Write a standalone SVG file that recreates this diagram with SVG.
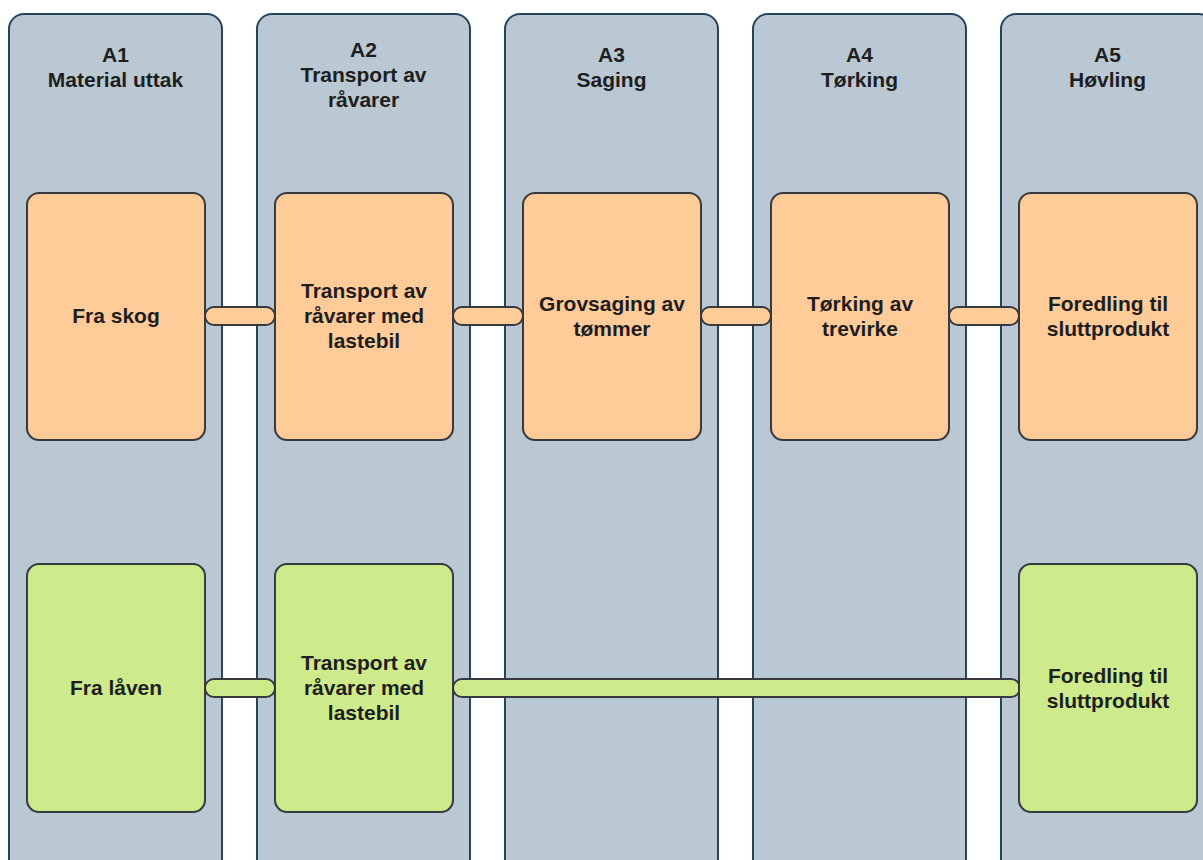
<svg xmlns="http://www.w3.org/2000/svg" width="1203" height="860" viewBox="0 0 1203 860">
<style>
.lane{fill:#bac8d3;stroke:#23445d;stroke-width:2}
.or{fill:#ffcc99;stroke:#36393d;stroke-width:2}
.gr{fill:#cdeb8b;stroke:#36393d;stroke-width:2}
.t{font-family:"Liberation Sans",Arial,sans-serif;font-size:21px;font-weight:bold;fill:#1e1e1e;text-anchor:middle}
</style>
<rect width="1203" height="860" fill="#ffffff"/>
<g id="lane-a1"><rect class="lane" x="9" y="14" width="213" height="900" rx="15"/>
<text class="t" x="115.5"><tspan x="115.5" y="62">A1</tspan><tspan x="115.5" y="87">Material uttak</tspan></text></g>
<g id="lane-a2"><rect class="lane" x="257" y="14" width="213" height="900" rx="15"/>
<text class="t"><tspan x="363.5" y="57">A2</tspan><tspan x="363.5" y="82">Transport av</tspan><tspan x="363.5" y="107">råvarer</tspan></text></g>
<g id="lane-a3"><rect class="lane" x="505" y="14" width="213" height="900" rx="15"/>
<text class="t"><tspan x="611.5" y="62">A3</tspan><tspan x="611.5" y="87">Saging</tspan></text></g>
<g id="lane-a4"><rect class="lane" x="753" y="14" width="213" height="900" rx="15"/>
<text class="t"><tspan x="859.5" y="62">A4</tspan><tspan x="859.5" y="87">Tørking</tspan></text></g>
<g id="lane-a5"><rect class="lane" x="1001" y="14" width="213" height="900" rx="15"/>
<text class="t"><tspan x="1107.5" y="62">A5</tspan><tspan x="1107.5" y="87">Høvling</tspan></text></g>

<g id="connectors">
<rect class="or" x="205" y="307" width="70" height="18" rx="9"/>
<rect class="or" x="453" y="307" width="70" height="18" rx="9"/>
<rect class="or" x="701" y="307" width="70" height="18" rx="9"/>
<rect class="or" x="949" y="307" width="70" height="18" rx="9"/>
<rect class="gr" x="205" y="679" width="70" height="18" rx="9"/>
<rect class="gr" x="453" y="679" width="567" height="18" rx="9"/>
</g>

<g id="o1"><rect class="or" x="27" y="193" width="178" height="247" rx="12"/>
<text class="t" x="116" y="323">Fra skog</text></g>
<g id="o2"><rect class="or" x="275" y="193" width="178" height="247" rx="12"/>
<text class="t"><tspan x="364" y="298">Transport av</tspan><tspan x="364" y="323">råvarer med</tspan><tspan x="364" y="348">lastebil</tspan></text></g>
<g id="o3"><rect class="or" x="523" y="193" width="178" height="247" rx="12"/>
<text class="t"><tspan x="612" y="311">Grovsaging av</tspan><tspan x="612" y="336">tømmer</tspan></text></g>
<g id="o4"><rect class="or" x="771" y="193" width="178" height="247" rx="12"/>
<text class="t"><tspan x="860" y="311">Tørking av</tspan><tspan x="860" y="336">trevirke</tspan></text></g>
<g id="o5"><rect class="or" x="1019" y="193" width="178" height="247" rx="12"/>
<text class="t"><tspan x="1108" y="311">Foredling til</tspan><tspan x="1108" y="336">sluttprodukt</tspan></text></g>

<g id="g1"><rect class="gr" x="27" y="564" width="178" height="248" rx="12"/>
<text class="t" x="116" y="695">Fra låven</text></g>
<g id="g2"><rect class="gr" x="275" y="564" width="178" height="248" rx="12"/>
<text class="t"><tspan x="364" y="670">Transport av</tspan><tspan x="364" y="695">råvarer med</tspan><tspan x="364" y="720">lastebil</tspan></text></g>
<g id="g5"><rect class="gr" x="1019" y="564" width="178" height="248" rx="12"/>
<text class="t"><tspan x="1108" y="683">Foredling til</tspan><tspan x="1108" y="708">sluttprodukt</tspan></text></g>
</svg>
